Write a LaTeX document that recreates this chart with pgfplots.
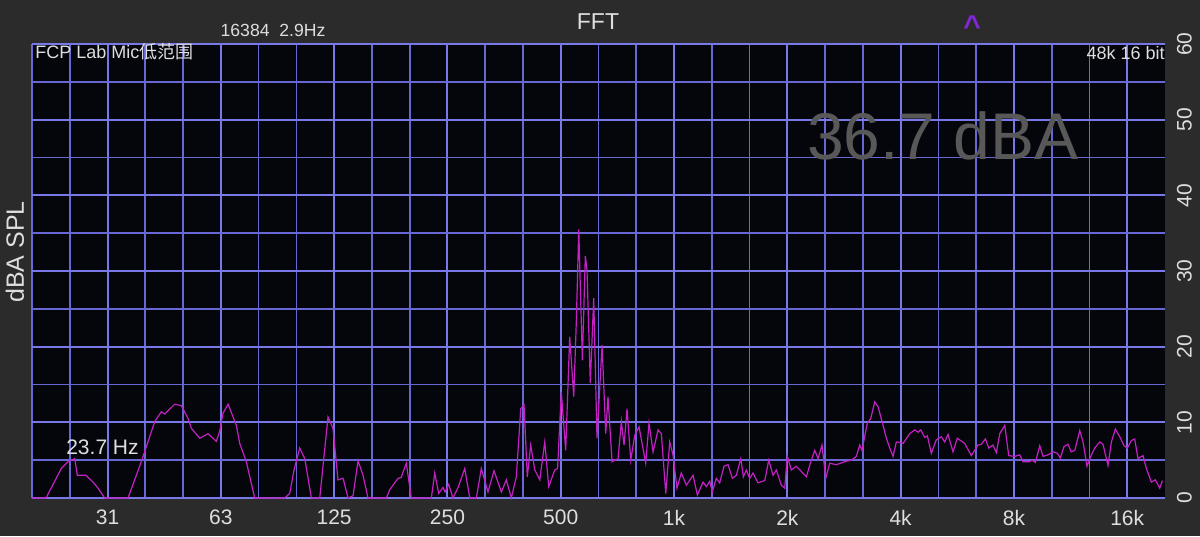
\documentclass[border=0pt]{standalone}
\usepackage{fontspec}
\setmainfont{Liberation Sans}
\newfontfamily\cjk{Noto Sans CJK SC}
\usepackage{pgfplots}
\pgfplotsset{compat=1.18}
\definecolor{bgc}{RGB}{43,43,43}
\definecolor{plotbg}{RGB}{4,6,12}
\definecolor{gridmaj}{RGB}{120,120,232}
\definecolor{gridmin}{RGB}{104,104,212}
\definecolor{curve}{RGB}{196,32,196}
\definecolor{labc}{RGB}{222,222,222}
\definecolor{bigtxt}{RGB}{88,88,88}
\definecolor{caret}{RGB}{128,40,210}
\pgfplotstableread{
oct db
-5.667 0
-5.543 0
-5.408 3.9
-5.349 4.8
-5.289 5.2
-5.267 3.0
-5.190 3.0
-5.128 2.1
-5.084 1.3
-5.025 0
-4.819 0
-4.702 4.8
-4.583 10.1
-4.525 11.4
-4.495 11.1
-4.407 12.4
-4.349 12.2
-4.289 10.5
-4.260 9.2
-4.186 7.9
-4.113 8.5
-4.040 7.5
-4.010 8.8
-3.981 11.2
-3.936 12.4
-3.863 9.6
-3.833 7.2
-3.775 4.8
-3.701 0
-3.436 0
-3.392 0.6
-3.354 3.7
-3.304 6.6
-3.259 5.2
-3.201 0
-3.127 0
-3.054 10.7
-3.010 9.2
-2.966 2.4
-2.921 2.6
-2.877 0
-2.833 0.3
-2.789 4.9
-2.745 3.0
-2.701 0
-2.539 0
-2.509 1.1
-2.436 2.6
-2.409 2.7
-2.363 4.6
-2.319 0
-2.142 0
-2.112 3.3
-2.077 0.6
-2.039 1.4
-2.021 0.8
-1.989 1.8
-1.951 0
-1.906 1.4
-1.847 3.9
-1.803 0
-1.745 0
-1.701 3.9
-1.642 0.8
-1.589 3.6
-1.524 0.8
-1.480 2.4
-1.436 0
-1.392 2.8
-1.353 11.8
-1.324 12.3
-1.295 2.8
-1.265 7.0
-1.229 3.7
-1.185 2.4
-1.141 7.4
-1.106 1.5
-1.053 3.7
-1.028 3.9
-0.995 14.0
-0.956 6.3
-0.921 21.3
-0.885 13.4
-0.862 23.5
-0.841 35.5
-0.809 18.2
-0.783 32.0
-0.768 30.1
-0.739 15.2
-0.709 26.4
-0.680 7.9
-0.635 20.2
-0.603 8.5
-0.583 13.4
-0.547 4.8
-0.494 5.2
-0.465 10.1
-0.441 7.0
-0.415 11.8
-0.382 5.0
-0.347 8.3
-0.309 9.4
-0.250 4.6
-0.221 9.9
-0.185 6.1
-0.141 9.0
-0.112 8.5
-0.073 0.6
-0.038 7.4
-0.009 5.7
0.026 1.3
0.064 3.3
0.109 1.7
0.168 3.0
0.206 0.4
0.256 2.1
0.285 1.5
0.315 2.2
0.338 0.8
0.373 2.6
0.403 2.0
0.441 4.2
0.477 4.4
0.515 2.6
0.550 3.0
0.589 5.2
0.612 2.8
0.638 3.7
0.668 2.6
0.697 3.3
0.741 2.0
0.801 2.3
0.836 5.0
0.874 3.0
0.903 3.7
0.947 1.7
0.977 1.3
1.000 5.5
1.035 3.7
1.079 4.2
1.124 3.5
1.168 2.8
1.207 4.8
1.242 6.3
1.271 5.2
1.306 7.0
1.339 2.6
1.374 4.6
1.432 4.4
1.507 4.8
1.565 5.0
1.609 5.5
1.639 7.0
1.659 6.3
1.706 9.9
1.736 10.5
1.771 12.7
1.800 12.1
1.845 9.6
1.874 7.9
1.904 6.6
1.933 5.5
1.962 7.4
1.977 7.4
2.021 7.2
2.080 8.5
2.124 9.0
2.154 8.7
2.177 9.0
2.213 8.0
2.236 8.2
2.271 5.9
2.315 7.7
2.359 8.1
2.389 7.4
2.418 8.4
2.462 6.1
2.500 7.9
2.566 7.2
2.624 5.6
2.683 7.0
2.712 7.1
2.748 7.8
2.778 6.6
2.815 7.0
2.845 6.0
2.875 8.5
2.919 9.6
2.954 5.6
3.007 5.5
3.051 5.7
3.080 4.8
3.139 4.8
3.160 5.0
3.189 4.7
3.228 6.9
3.257 5.5
3.301 5.7
3.345 6.1
3.383 5.9
3.409 5.3
3.442 6.8
3.477 7.1
3.506 6.1
3.537 6.3
3.581 8.9
3.610 7.4
3.645 4.2
3.678 5.5
3.713 6.6
3.757 7.4
3.786 7.1
3.830 4.3
3.860 7.4
3.895 9.1
3.934 8.1
3.972 6.9
4.001 6.6
4.036 7.6
4.066 7.8
4.095 5.2
4.139 5.6
4.169 3.9
4.213 2.1
4.248 2.4
4.287 1.3
4.310 2.3
}\fftdata
\begin{document}
\begin{tikzpicture}
\fill[bgc] (0,0) rectangle (600pt,268pt);
\useasboundingbox (0,0) rectangle (600pt,268pt);
\begin{axis}[
  at={(16pt,19pt)}, anchor=south west,
  scale only axis, width=566.5pt, height=227pt,
  xmin=-5.66667, xmax=4.33333, ymin=0, ymax=60,
  clip=false,
  /pgf/number format/assume math mode=true,
  axis background/.style={fill=plotbg},
  axis line style={draw=none},
  xtick={-5,-4,-3,-2,-1,0,1,2,3,4},
  xticklabels={31,63,125,250,500,1k,2k,4k,8k,16k},
  minor xtick={-5.6666,-5.3333,-4.6667,-4.3333,-3.6667,-3.3333,-2.6667,-2.3333,-1.6667,-1.3333,-0.6667,-0.3333,0.3333,0.6667,1.3333,1.6667,2.3333,2.6667,3.3333,3.6667},
  ytick={0,10,...,60},
  yticklabels={0,10,20,30,40,50,60},
  minor ytick={5,15,...,55},
  grid=both,
  major grid style={draw=gridmaj, line width=1pt},
  minor grid style={draw=gridmin, line width=0.85pt},
  major tick length=0pt, minor tick length=0pt,
  yticklabel pos=right,
  xticklabel style={font=\fontsize{10.5}{12}\selectfont, text=labc, anchor=north},
  yticklabel style={font=\fontsize{10.5}{12}\selectfont, text=labc, rotate=90, anchor=north},
  xticklabel shift=2.5pt,
  yticklabel shift=2.5pt,
]
\addplot[curve, line width=0.6pt] table[x=oct, y=db] {\fftdata};
\end{axis}
\node[font=\fontsize{11.5}{13}\selectfont, text=labc] at (299pt,257pt) {FFT};
\node[font=\fontsize{8.8}{10}\selectfont, text=labc] at (136.5pt,253pt) {16384\ \ 2.9Hz};
\node[font=\bfseries\fontsize{15}{16}\selectfont, text=caret] at (486pt,255pt) {\textasciicircum};
\node[font=\fontsize{9}{10}\selectfont, text=labc, anchor=west, inner sep=0pt] at (17.5pt,242pt) {FCP Lab Mic{\cjk 低范围}};
\node[font=\fontsize{9}{10}\selectfont, text=labc, anchor=east, inner sep=0pt] at (582.5pt,241.5pt) {48k 16 bit};
\node[font=\fontsize{33}{36}\selectfont, text=bigtxt] at (471.5pt,200pt) {36.7 dBA};
\node[font=\fontsize{10.5}{12}\selectfont, text=labc] at (51.25pt,44.5pt) {23.7 Hz};
\node[font=\fontsize{12.5}{14}\selectfont, text=labc, rotate=90] at (7.5pt,142pt) {dBA SPL};
\end{tikzpicture}
\end{document}
